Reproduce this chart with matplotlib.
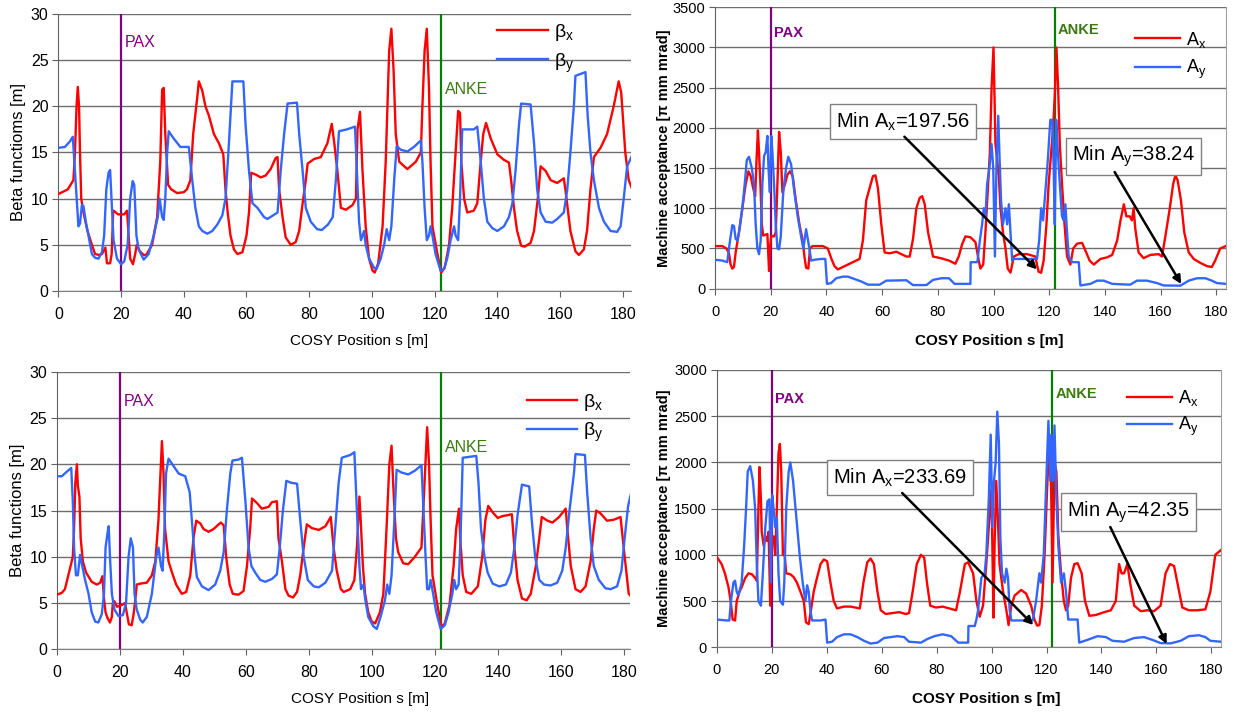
import matplotlib
matplotlib.use("Agg")
import matplotlib.pyplot as plt
import numpy as np

plt.rcParams["font.family"] = ["Liberation Sans", "DejaVu Sans"]
plt.rcParams["mathtext.fontset"] = "custom"
plt.rcParams["mathtext.rm"] = "Liberation Sans"

# ---- data: (s [m], value) ----
# top-left: beta functions
beta_x_a = [(0, 10.5), (3, 11), (4.8, 12), (5.3, 15), (5.8, 20), (6.2, 22.1), (6.6, 20), (6.9, 15), (7.3, 10),
            (8, 8.5), (9.3, 6.5), (10.7, 5), (11.7, 4), (13, 3.9), (13.9, 4), (15, 4.7), (15.5, 3), (16.5, 3),
            (17, 4), (17.5, 8.7), (18, 8.6), (19, 8.3), (21, 8.3), (21.9, 8.7), (22.4, 6), (22.9, 3.5),
            (23.8, 2.9), (24.5, 4), (25, 5), (26, 4.3), (27.2, 3.9), (28, 3.9), (29.9, 5), (31.5, 8),
            (32.5, 14), (33.1, 21.8), (33.6, 22), (34.1, 17), (35, 11.5), (36, 11), (37.9, 10.6), (40, 10.7),
            (41, 11), (42.1, 12), (43, 17), (44.3, 21), (44.8, 22.7), (45.9, 21.7), (46.9, 20), (48, 19),
            (49.6, 17), (51.2, 16), (52.6, 14.8), (53.3, 11), (54, 8.5), (54.9, 6), (56, 4.5), (57.1, 4),
            (58.7, 4.2), (60, 6), (60.8, 8.5), (61.5, 12.8), (63, 12.6), (64.5, 12.3), (66.1, 12.5),
            (67.7, 13.2), (69.3, 14.4), (69.9, 14.5), (70.4, 11), (71.5, 8), (72.5, 5.8), (74.1, 5),
            (75.7, 5.3), (76.8, 6.5), (77.9, 9.5), (78.9, 12), (79.5, 13.8), (81.6, 14.3), (83.7, 14.5),
            (85.8, 16), (87.2, 18.1), (88, 16), (89, 13), (90.1, 9), (91.7, 8.8), (93.8, 9.3), (94.9, 10),
            (95.4, 17.5), (96.2, 19.4), (97, 13), (98, 7), (99.1, 3.5), (100.2, 2.2), (100.9, 2.0), (102, 3),
            (103.4, 7), (104.4, 14), (105.5, 26), (106.2, 28.4), (106.9, 24), (107.6, 17), (108.7, 14),
            (111.3, 13.2), (114, 14), (115.6, 15), (116.1, 20), (116.8, 26), (117.5, 28.4), (118.2, 22),
            (118.7, 14), (119.3, 7), (120.9, 4), (122.1, 2.0), (123.2, 2.5), (124.6, 5), (125.6, 9),
            (126.7, 15), (127.5, 19.5), (128.1, 19.3), (128.5, 14), (129.4, 10), (130.4, 8.5), (132.5, 8.7),
            (133.6, 9.5), (134.7, 14), (135.5, 17), (136.4, 18.2), (137.9, 16.5), (140, 14.8), (142.1, 14.2),
            (143.7, 13.9), (144.4, 12), (145.3, 9), (146.3, 6.5), (147.6, 4.9), (148.7, 4.8), (150.6, 5.2),
            (151.7, 6.5), (152.9, 10), (153.8, 13.5), (155.4, 13), (157, 12), (159.1, 11.7), (161.2, 12.2),
            (161.7, 11), (163.3, 6.5), (164.9, 4.3), (166, 3.9), (167.6, 4.5), (168.6, 6.5), (169.7, 11),
            (170.8, 14.5), (172.9, 15.5), (175, 17), (177.1, 20), (178.7, 22.7), (179.5, 21.5), (180.8, 15),
            (181.9, 12), (183.4, 10.7)]
beta_y_a = [(0, 15.5), (2.1, 15.6), (3.7, 16.2), (4.6, 16.7), (5.3, 13), (5.9, 10), (6.4, 7), (6.9, 7.3),
            (7.5, 9.3), (8, 9.2), (8.9, 7.2), (9.6, 6), (10.7, 4), (11.7, 3.6), (12.8, 3.5), (13.9, 4.2),
            (14.6, 6), (15.3, 11), (16, 12.8), (16.5, 13.1), (17.1, 9), (17.6, 5.5), (18.7, 3.5), (20, 2.9),
            (21, 3.2), (22.1, 5), (22.9, 10), (23.7, 11.9), (24.2, 11.5), (24.9, 6), (25.6, 4.5), (27.2, 3.4),
            (28.8, 4), (30.4, 6), (31.7, 8), (32.3, 10), (33.1, 8), (33.6, 7.7), (34.1, 10), (34.7, 15),
            (35.2, 17.3), (36.8, 16.5), (38.9, 15.6), (41.6, 15.6), (42.7, 12), (43.7, 9), (44.8, 7),
            (45.9, 6.5), (47.5, 6.2), (49.1, 6.5), (50.7, 7.2), (52.3, 8.2), (53.3, 10), (54.4, 16),
            (55.5, 22.7), (59, 22.7), (59.7, 18), (60.8, 13), (61.9, 9.5), (63.5, 9), (65.6, 8), (66.7, 7.8),
            (69.9, 8.5), (70.9, 13), (72, 17), (73.1, 20.3), (76.1, 20.4), (76.8, 17), (77.9, 13), (78.9, 9),
            (80.5, 7.5), (82.5, 6.7), (84, 6.6), (86, 7.2), (87.5, 8), (88.5, 12), (89.5, 17.3), (92, 17.5),
            (94.6, 17.8), (95.2, 13), (95.9, 7.5), (96.5, 5.5), (97.5, 6.5), (98, 5), (99.1, 3.5), (100.7, 2.5),
            (101.5, 2.4), (102.8, 3.5), (103.9, 5), (104.7, 6.7), (105.5, 5.5), (106.2, 7), (107.1, 12),
            (107.9, 15.7), (109.2, 15.3), (111.3, 15.1), (113.4, 15.6), (115.6, 16.3), (116.1, 14),
            (116.8, 9), (117.5, 5.5), (118.2, 6), (118.7, 7), (119.3, 6), (120.3, 4), (121.9, 2.2), (123, 2.4),
            (124, 3.5), (125.1, 5.5), (126.2, 7), (126.7, 6), (127.5, 5.5), (128.1, 10), (128.8, 17.5),
            (132.5, 17.5), (133.6, 17.8), (134.7, 14), (135.7, 10), (136.8, 7.5), (138.4, 6.8), (140, 6.5),
            (142.1, 7), (143.7, 8), (144.8, 9.5), (145.8, 13), (146.9, 18), (147.6, 20.3), (150.6, 20.2),
            (151.7, 16), (152.7, 11), (153.8, 8.5), (155.4, 7.5), (157.5, 7.4), (159.1, 7.8), (161.2, 8.5),
            (162.3, 11), (163.3, 15), (164.4, 20), (164.9, 23.3), (168.1, 23.7), (168.8, 19), (169.7, 15),
            (170.8, 12), (172.4, 9), (174, 7.5), (176.1, 6.5), (178.2, 6.4), (179.3, 7), (180.3, 10),
            (181.4, 13.5), (183.4, 15)]

# bottom-left: beta functions
beta_x_b = [(0, 5.9), (1.6, 6.1), (2.6, 6.5), (3.7, 8), (4.4, 9), (5.1, 10), (5.5, 13), (5.9, 18), (6.4, 20),
            (6.7, 17.7), (7.2, 16.5), (7.6, 12), (8.3, 9.5), (9.3, 8.3), (11.1, 7.3), (12.7, 7.0), (13.8, 7.2),
            (14.5, 7.9), (15, 5.5), (15.5, 4), (16.1, 3.4), (16.9, 2.9), (17.5, 3.5), (17.8, 5), (18.3, 5.2),
            (19.1, 4.6), (20.7, 4.8), (21.7, 5), (22.2, 4), (22.9, 2.7), (23.8, 2.6), (24.4, 3.8), (24.9, 5.2),
            (25.4, 7), (26.5, 7.1), (28.6, 7.2), (30.2, 8), (31.3, 9.5), (32.3, 14), (32.8, 18), (33.4, 22.5),
            (33.9, 19), (34.4, 13), (35.5, 9.5), (36.5, 8.4), (37.9, 7), (39.7, 6), (41.1, 6.2), (42.4, 8),
            (43.4, 12), (44.3, 13.9), (45.6, 13.6), (46.6, 13), (48.2, 12.7), (49.8, 13), (51.4, 13.5),
            (52.1, 13.7), (53, 13.4), (53.8, 10), (54.9, 7), (55.9, 6), (57.7, 5.9), (59.3, 6.3), (60.4, 9),
            (61.4, 13), (62, 16.3), (63.6, 15.8), (65.1, 15.2), (67.3, 15.4), (68.3, 15.9), (69.9, 16),
            (70.4, 12), (71.5, 9.5), (72.6, 6.5), (73.6, 5.8), (75, 5.6), (76.3, 6.2), (77.3, 8), (78.4, 11),
            (79.4, 13.5), (81, 13.1), (83.2, 12.9), (85.3, 13.3), (87, 14.3), (87.9, 11), (88.9, 8.5),
            (90.2, 6.5), (91.1, 6.2), (93.2, 6.5), (94.5, 7.5), (95.3, 11), (96.1, 16.5), (96.5, 14),
            (97.2, 9), (97.9, 6), (98.9, 4), (100, 3), (101.1, 2.8), (102.6, 4), (103.7, 6), (104.7, 13),
            (105.6, 20), (106.3, 22), (106.8, 18), (107.7, 12), (108.4, 10.5), (110, 9.3), (111.6, 9.2),
            (113.7, 10), (115.8, 11), (116.5, 16), (117.2, 21), (117.6, 24), (118.2, 20), (118.7, 14),
            (119.3, 8), (120.5, 5.5), (122.1, 2.4), (123.2, 2.8), (124.7, 4.8), (126, 9), (126.8, 13),
            (127.7, 15.2), (128.1, 12), (128.9, 8), (130, 6.2), (131.6, 6), (133.7, 6.8), (135.1, 10),
            (136.1, 14), (137, 15.5), (138.4, 14.8), (140, 14.2), (141.6, 14.4), (143.2, 14.5), (144.5, 14.6),
            (145.3, 11), (146.3, 7.5), (147.7, 5.5), (149.2, 5.3), (150.5, 6), (152.1, 9), (153.2, 12),
            (154, 14.3), (155.8, 13.9), (157.4, 13.7), (159.5, 14.3), (161.6, 15.2), (162.1, 13), (163.2, 9),
            (164.7, 6.5), (166.3, 6.2), (167.9, 6.8), (169.5, 9.5), (170.5, 13), (171.3, 15), (172.6, 14.7),
            (174.7, 13.9), (176.8, 14), (179, 14.3), (180, 11), (181.1, 7.5), (181.6, 6), (183, 5.5)]
beta_y_b = [(0, 18.7), (1.6, 18.7), (3.2, 19.2), (4.6, 19.6), (5.1, 16), (5.5, 11), (6.1, 8), (6.7, 8),
            (7.4, 10.2), (8.1, 9), (9, 7.5), (10.1, 6), (11.1, 4), (12.2, 3), (13.2, 2.9), (14.3, 3.8), (15, 6),
            (15.5, 11), (16.1, 12.5), (16.5, 13.3), (16.9, 10), (17.5, 6), (18.3, 4.3), (19.6, 3.6), (21, 3.7),
            (22, 5), (22.8, 10), (23.5, 12), (24.2, 11), (24.7, 6), (25.4, 4.3), (26.5, 3.2), (27.3, 2.9),
            (28.6, 3.5), (30.2, 6), (31.6, 10), (32.3, 11), (33.1, 9), (33.6, 8.5), (34.2, 13), (34.7, 19),
            (35.5, 20.6), (37.1, 19.8), (38.7, 19), (40.8, 18.7), (42.2, 17), (42.9, 14), (43.8, 10),
            (44.5, 7.8), (46.1, 6.8), (48.2, 6.4), (50.3, 7), (51.9, 8.5), (53, 10.5), (54, 15), (55.1, 19),
            (55.8, 20.4), (57.7, 20.5), (58.8, 20.7), (59.9, 16), (60.9, 11), (61.8, 9), (63, 8.3), (64.6, 7.5),
            (66.2, 7.3), (68.3, 7.6), (69.9, 8.1), (70.8, 11), (71.8, 15), (72.9, 18.2), (74.4, 18),
            (76.3, 17.9), (77.3, 14), (78.4, 10), (79.7, 7.5), (81.6, 6.8), (83.2, 6.7), (85.3, 7.2),
            (87.4, 8.5), (88.4, 13), (89.5, 18), (90.5, 20.7), (93.2, 21), (94.5, 21.3), (95.3, 15), (96.1, 9),
            (96.6, 6.5), (97.4, 7), (97.9, 5.5), (98.9, 3.5), (100.5, 2.5), (101.6, 2.2), (102.8, 3.5),
            (104.2, 5.3), (104.9, 7), (105.6, 6), (106.3, 8), (107.2, 14), (107.9, 19.4), (109.5, 19.1),
            (111.6, 18.9), (113.7, 19.3), (115.8, 19.9), (116.3, 16), (117.1, 10), (117.6, 6.5), (118.2, 6.5),
            (118.7, 7.5), (119.5, 6), (120.5, 4), (121.9, 2.2), (123.2, 2.6), (124.4, 4), (125.6, 6),
            (126.2, 7.5), (126.8, 6.5), (127.6, 7), (128.2, 12), (128.9, 20.7), (133.2, 20.9), (133.9, 18),
            (134.7, 13), (135.8, 10), (136.8, 8.3), (138.4, 7.1), (140.5, 6.8), (142.6, 7), (144.2, 8.3),
            (145.3, 11), (146.3, 14.5), (147.7, 17.8), (150, 17.6), (150.8, 14), (151.9, 10), (153.2, 7.5),
            (154.7, 7), (156.8, 6.9), (158.9, 7.2), (160.5, 8.5), (161.6, 11), (162.8, 15), (164.2, 19),
            (164.7, 21.1), (167.7, 21), (168.4, 17), (169.5, 12), (170.5, 9), (172.1, 7.5), (174.2, 6.6),
            (175.8, 6.5), (177.9, 6.8), (179.3, 8.5), (180.3, 12), (181.4, 15.5), (183, 17.8)]

# top-right: machine acceptance
acc_x_a = [(0, 530), (2.6, 530), (4.1, 500), (5, 440), (5.6, 300), (6.2, 250), (6.8, 270), (7.4, 450),
           (8.6, 700), (9.8, 1000), (11, 1300), (12, 1460), (12.8, 1400), (13.7, 1250), (14.4, 1150),
           (14.9, 1600), (15.4, 1970), (15.8, 1700), (16.3, 1300), (16.8, 800), (17.3, 660), (18.8, 680),
           (19.4, 220), (19.7, 500), (20.2, 660), (21.2, 650), (21.8, 700), (22.4, 1300), (23, 1950),
           (23.6, 1700), (24.2, 1200), (25.1, 1300), (26, 1420), (26.9, 1460), (27.9, 1400), (29, 1100),
           (30.3, 800), (31.5, 600), (32.1, 400), (32.7, 260), (33.5, 250), (34.1, 500), (35, 530),
           (38.7, 530), (40.5, 500), (41.7, 380), (42.9, 280), (44.1, 240), (45.9, 270), (47.7, 300),
           (49.5, 330), (51.9, 370), (53.1, 600), (54.3, 1100), (55.5, 1250), (56.7, 1400), (57.6, 1410),
           (58.5, 1250), (59.7, 800), (60.9, 450), (62.7, 440), (65.1, 460), (66.9, 430), (68.7, 400),
           (69.9, 400), (71.1, 620), (72.3, 1000), (73.5, 1130), (74.4, 1150), (75.3, 1050), (76.5, 700),
           (78.3, 400), (81, 380), (84, 350), (86.3, 310), (87.5, 400), (88.7, 550), (89.9, 650), (91.7, 640),
           (93.5, 580), (94.7, 350), (95.3, 250), (96.3, 300), (97.1, 700), (97.9, 1200), (98.7, 1700),
           (99.3, 2500), (100, 3000), (100.3, 2500), (100.7, 1800), (101.3, 1600), (101.9, 1400),
           (102.5, 1000), (103.4, 700), (104.3, 500), (105.1, 250), (106.1, 200), (106.7, 300), (107.3, 400),
           (109.1, 430), (112.1, 430), (115, 400), (115.6, 300), (116.2, 210), (117.1, 198), (118, 350),
           (119, 800), (119.8, 1300), (120.7, 1700), (121.4, 2000), (122, 2400), (122.6, 3000), (123.2, 2500),
           (123.8, 1800), (124.6, 1300), (125.5, 800), (126.4, 400), (127.6, 300), (128.6, 500), (130, 560),
           (131.8, 570), (133.3, 450), (134.5, 350), (136, 300), (138.4, 370), (140.8, 390), (142.6, 420),
           (144.4, 600), (145.6, 850), (146.8, 1050), (147.7, 900), (148.9, 900), (149.7, 850), (150.3, 1000),
           (150.9, 750), (152.1, 450), (153.9, 380), (156.3, 420), (159.3, 430), (160.5, 400), (161.7, 650),
           (163.3, 1000), (164.5, 1300), (165.3, 1410), (166.1, 1350), (167.3, 1100), (168.5, 700),
           (170.1, 450), (171.9, 370), (174.3, 320), (176.7, 280), (178.4, 270), (179.6, 350), (181.4, 500),
           (183.4, 530)]
acc_y_a = [(0, 360), (2.6, 350), (4.4, 330), (5, 500), (5.6, 650), (6.2, 790), (6.8, 780), (7.4, 620), (8, 600),
           (8.6, 700), (9.8, 1000), (10.8, 1350), (11.4, 1600), (12.2, 1640), (13.2, 1500), (14, 1300),
           (14.6, 800), (15.2, 500), (15.8, 430), (16.4, 600), (17, 1300), (17.6, 1650), (18.2, 1700),
           (18.8, 1900), (19.2, 1500), (19.7, 1200), (20.2, 1900), (20.6, 1700), (21.2, 1300), (21.8, 800),
           (22.4, 500), (23, 490), (23.6, 650), (24.5, 1200), (25.5, 1500), (26.3, 1640), (27.3, 1550),
           (28.5, 1200), (29.7, 900), (30.9, 650), (31.7, 500), (32.7, 740), (33.3, 620), (33.9, 500),
           (34.5, 350), (35.7, 360), (38.1, 370), (39.6, 370), (40.2, 60), (41.7, 70), (43.5, 130), (45.9, 150),
           (47.7, 150), (50.1, 120), (52.5, 90), (54.9, 50), (59.1, 50), (61.5, 100), (68.7, 105), (71.1, 45),
           (75.9, 45), (78.3, 110), (81.3, 130), (84, 130), (86, 60), (91.7, 60), (91.8, 330), (94.2, 330),
           (95.1, 600), (95.9, 800), (96.5, 1000), (97.1, 900), (97.7, 1300), (98.5, 1500), (99.3, 1800),
           (99.9, 1500), (100.5, 400), (101.1, 1600), (101.7, 2150), (102.1, 1700), (102.7, 1100),
           (103.4, 800), (104.3, 1000), (104.9, 800), (105.5, 1050), (106.1, 700), (106.7, 350), (107.3, 370),
           (115.6, 370), (116.4, 600), (117.1, 1000), (117.8, 850), (118.6, 1200), (119.5, 1600),
           (120.4, 2100), (121.1, 2100), (121.6, 1500), (122, 800), (122.5, 2100), (123.1, 1700),
           (123.8, 1300), (124.6, 900), (125.2, 850), (125.8, 1050), (126.4, 700), (127, 400), (128.2, 330),
           (130.6, 330), (131.2, 40), (134.8, 60), (137.2, 100), (139.6, 100), (142.6, 60), (149.1, 50),
           (151.5, 100), (155.1, 100), (158.7, 70), (161.1, 40), (167.1, 38), (170.1, 100), (173.1, 130),
           (176.1, 130), (178.4, 100), (180.2, 70), (183.4, 60)]

# bottom-right: machine acceptance
acc_x_b = [(0, 980), (1.8, 900), (3, 800), (4.3, 650), (5.1, 500), (5.8, 300), (6.7, 290), (7.3, 500),
           (8.3, 600), (9.1, 650), (10.4, 750), (11.6, 800), (12.8, 790), (14, 750), (14.6, 720), (15.2, 1500),
           (15.6, 1950), (16.1, 1600), (16.4, 1250), (17.1, 1100), (17.7, 1200), (18.3, 1150), (18.9, 1250),
           (19.5, 450), (20, 1200), (20.7, 1200), (21.3, 1000), (21.9, 1500), (22.5, 2100), (23, 2200),
           (23.5, 1900), (24.1, 1000), (24.6, 1050), (25.3, 800), (26.8, 790), (28, 760), (29.2, 700),
           (30.5, 600), (31.7, 500), (32.5, 270), (33.5, 250), (34.3, 400), (35.3, 600), (36.5, 750),
           (37.8, 900), (39, 950), (40.2, 930), (41.4, 700), (42.6, 500), (43.8, 420), (46.3, 440),
           (48.7, 440), (52.1, 420), (53.4, 700), (54.8, 920), (56, 960), (57.2, 900), (58.5, 600),
           (59.7, 400), (61.5, 360), (63.9, 370), (66.4, 380), (68.8, 360), (70, 370), (71.3, 600),
           (72.8, 900), (74.3, 1000), (75.5, 970), (76.5, 700), (77.7, 450), (79.8, 430), (82.2, 440),
           (84.7, 420), (87.1, 400), (88.5, 600), (90.3, 900), (91.5, 920), (93.3, 800), (94.5, 500),
           (95.7, 330), (96.9, 450), (98.1, 900), (99, 1300), (99.7, 1700), (100.2, 1300), (100.7, 320),
           (101.1, 1100), (101.7, 1800), (102.3, 1400), (102.9, 900), (104.2, 600), (105.4, 400),
           (106.2, 240), (107.2, 450), (108.4, 560), (110.8, 620), (112.6, 580), (114.4, 450), (115.6, 300),
           (116.6, 234), (117.4, 240), (118.3, 450), (119.3, 1000), (120.2, 1700), (121.1, 2300),
           (121.7, 1700), (122.2, 700), (122.9, 2000), (123.6, 1900), (124.3, 1200), (125.3, 800),
           (126.3, 500), (127.1, 400), (127.9, 450), (128.9, 750), (130.1, 900), (131.3, 910), (132.8, 800),
           (134, 500), (135.6, 340), (138, 350), (141, 380), (143.4, 400), (145.2, 500), (146.4, 900),
           (147.3, 800), (148.2, 800), (149.4, 900), (150.4, 700), (151.9, 450), (154.3, 390), (156.7, 400),
           (159.1, 390), (161.5, 450), (163.3, 800), (164.9, 900), (166.4, 880), (167.6, 700), (169.4, 430),
           (171.8, 400), (174.8, 400), (177.8, 410), (179.6, 600), (181.4, 1000), (183.4, 1050)]
acc_y_b = [(0, 300), (3.7, 290), (4.6, 290), (5.2, 500), (6.1, 700), (6.7, 720), (7.3, 600), (7.9, 560),
           (9.1, 700), (10, 1100), (10.7, 1500), (11.3, 1900), (12.2, 1960), (13.2, 1800), (14, 1500),
           (14.6, 900), (15.2, 500), (16.1, 450), (16.8, 800), (17.7, 1300), (18.5, 1580), (19.2, 1600),
           (19.7, 700), (20.2, 1650), (20.7, 1500), (21.3, 1300), (21.9, 1400), (22.5, 800), (23.1, 500),
           (24.1, 460), (24.6, 700), (25.3, 1500), (26.2, 1900), (26.8, 2000), (27.8, 1800), (29, 1400),
           (30.2, 1000), (31.3, 700), (32.3, 500), (32.9, 670), (33.5, 600), (34.1, 400), (34.7, 290),
           (37.8, 290), (39.6, 300), (40.2, 50), (42, 60), (43.8, 110), (46.3, 140), (48.7, 140), (51.2, 110),
           (53.6, 70), (56, 40), (58.5, 50), (60.9, 100), (65.8, 120), (68.2, 110), (70, 60), (74.3, 50),
           (76.7, 90), (79.2, 120), (82.2, 140), (85.3, 120), (87.9, 50), (91.5, 50), (91.6, 230), (93.9, 230),
           (94.5, 300), (95.1, 400), (96.3, 750), (97.5, 800), (98.1, 1000), (99, 1600), (99.7, 2300),
           (100.3, 1300), (100.9, 1800), (101.5, 2000), (102.1, 2550), (102.7, 2200), (103.2, 1200),
           (103.8, 800), (104.8, 700), (105.4, 850), (106, 750), (106.6, 400), (107.2, 290), (115, 290),
           (116.2, 500), (117.4, 800), (118, 700), (119, 1000), (119.8, 1700), (120.7, 2450), (121.4, 1800),
           (121.8, 2300), (122.4, 1800), (122.9, 2400), (123.6, 1600), (124.3, 1100), (125.3, 700),
           (126.3, 800), (127.1, 600), (127.9, 300), (131.3, 300), (131.9, 50), (134.9, 80), (138.6, 120),
           (141.6, 110), (144, 70), (148.2, 60), (151.9, 100), (155.5, 110), (158.5, 80), (161.5, 45),
           (165.1, 42), (168.8, 70), (171.8, 120), (175.4, 130), (177.8, 110), (179.6, 70), (183.4, 60)]

pax_s = 20
anke_s = 122

RED = "#ff0000"
BLUE = "#3366ff"
GRID = "#6e6e6e"


def style(ax, ylim, yticks, xmax, right_spine, fs):
    ax.set_xlim(0, xmax)
    ax.set_ylim(*ylim)
    ax.set_yticks(yticks)
    ax.set_xticks(np.arange(0, 181, 20))
    ax.yaxis.grid(True, color=GRID, lw=1.0)
    ax.set_axisbelow(True)
    for side in ["top", "right"]:
        ax.spines[side].set_visible(False)
    if right_spine:
        ax.spines["right"].set_visible(True)
        ax.spines["right"].set_color("#a0a0a0")
    ax.spines["left"].set_color("#606060")
    ax.spines["bottom"].set_color("#808080")
    ax.tick_params(direction="out", length=4, color="#606060", labelsize=fs)
    ax.tick_params(axis="x", pad=7.5)
    ax.tick_params(axis="y", pad=3)


def markers(ax, pax_y, anke_y, bold):
    w = "bold" if bold else "normal"
    fs = 10.5 if bold else 11.5
    ax.axvline(pax_s, color="#800080", lw=1.6, zorder=3)
    ax.axvline(anke_s, color="#008000", lw=1.6, zorder=3)
    ax.text(pax_s + 1.2, pax_y, "PAX", color="#800080", fontsize=fs, fontweight=w, va="center")
    ax.text(anke_s + 1.2, anke_y, "ANKE", color="#3a7a10", fontsize=fs, fontweight=w, va="center")


def curve(ax, pts, color, label):
    s, v = zip(*pts)
    ax.plot(s, v, color=color, lw=1.7, label=label, zorder=4)


def note(ax, text, center, start, tip):
    ax.text(center[0], center[1], text, fontsize=14.5, ha="center", va="center", zorder=6,
            bbox=dict(boxstyle="square,pad=0.3", fc="white", ec="#808080", lw=1))
    ax.annotate("", xy=tip, xytext=start, zorder=6,
                arrowprops=dict(arrowstyle="-|>", color="black", lw=1.8, mutation_scale=12,
                                shrinkA=0, shrinkB=0))


fig = plt.figure(figsize=(12.47, 7.13), dpi=100)
ax1 = fig.add_axes([0.0468, 0.5919, 0.4589, 0.3885])
ax2 = fig.add_axes([0.5734, 0.5951, 0.4098, 0.3947])
ax3 = fig.add_axes([0.0455, 0.0893, 0.4597, 0.3894])
ax4 = fig.add_axes([0.5747, 0.0922, 0.4045, 0.3889])

# top-left
style(ax1, (0, 30), range(0, 31, 5), 182.5, False, 11.5)
curve(ax1, beta_x_a, RED, r"β$_\mathregular{x}$")
curve(ax1, beta_y_a, BLUE, r"β$_\mathregular{y}$")
markers(ax1, 26.9, 21.8, False)
ax1.set_ylabel("Beta functioms [m]", fontsize=12)
ax1.set_xlabel("COSY Position s [m]", fontsize=11)
ax1.xaxis.set_label_coords(0.525, -0.155)
ax1.yaxis.set_label_coords(-0.056, 0.5)
ax1.legend(loc="upper left", bbox_to_anchor=(0.767, 0.97), frameon=False, fontsize=14,
           handlelength=2.6, handletextpad=0.3, labelspacing=0.4, borderpad=0, borderaxespad=0)

# top-right
style(ax2, (0, 3500), range(0, 3501, 500), 183.5, True, 10.5)
curve(ax2, acc_x_a, RED, r"A$_\mathregular{x}$")
curve(ax2, acc_y_a, BLUE, r"A$_\mathregular{y}$")
markers(ax2, 3180, 3218, True)
ax2.set_ylabel("Machine acceptance [π mm mrad]", fontsize=10.5, fontweight="bold")
ax2.set_xlabel("COSY Position s [m]", fontsize=11, fontweight="bold")
ax2.xaxis.set_label_coords(0.536, -0.16)
ax2.yaxis.set_label_coords(-0.086, 0.5)
ax2.legend(loc="upper left", bbox_to_anchor=(0.822, 0.92), frameon=False, fontsize=13,
           handlelength=2.5, handletextpad=0.3, labelspacing=0.45, borderpad=0, borderaxespad=0)
note(ax2, r"Min A$_\mathregular{x}$=197.56", (67.4, 2080), (68, 1890), (115.6, 240))
note(ax2, r"Min A$_\mathregular{y}$=38.24", (150.3, 1644), (143.5, 1451), (167.4, 58))

# bottom-left
style(ax3, (0, 30), range(0, 31, 5), 182, False, 11.5)
curve(ax3, beta_x_b, RED, r"β$_\mathregular{x}$")
curve(ax3, beta_y_b, BLUE, r"β$_\mathregular{y}$")
markers(ax3, 26.8, 21.8, False)
ax3.set_ylabel("Beta functions [m]", fontsize=12)
ax3.set_xlabel("COSY Position s [m]", fontsize=11)
ax3.xaxis.set_label_coords(0.529, -0.155)
ax3.yaxis.set_label_coords(-0.055, 0.5)
ax3.legend(loc="upper left", bbox_to_anchor=(0.82, 0.927), frameon=False, fontsize=14,
           handlelength=2.6, handletextpad=0.3, labelspacing=0.4, borderpad=0, borderaxespad=0)

# bottom-right
style(ax4, (0, 3000), range(0, 3001, 500), 183.5, True, 10.5)
curve(ax4, acc_x_b, RED, r"A$_\mathregular{x}$")
curve(ax4, acc_y_b, BLUE, r"A$_\mathregular{y}$")
markers(ax4, 2686, 2740, True)
ax4.set_ylabel("Machine acceptance [π mm mrad]", fontsize=10.5, fontweight="bold")
ax4.set_xlabel("COSY Position s [m]", fontsize=11, fontweight="bold")
ax4.xaxis.set_label_coords(0.534, -0.16)
ax4.yaxis.set_label_coords(-0.09, 0.5)
ax4.legend(loc="upper left", bbox_to_anchor=(0.814, 0.935), frameon=False, fontsize=13,
           handlelength=2.5, handletextpad=0.3, labelspacing=0.4, borderpad=0, borderaxespad=0)
note(ax4, r"Min A$_\mathregular{x}$=233.69", (66.8, 1837), (67.5, 1669), (115.2, 241))
note(ax4, r"Min A$_\mathregular{y}$=42.35", (149.8, 1464), (143.2, 1301), (163.7, 36))

fig.savefig("out.png", dpi=100)
